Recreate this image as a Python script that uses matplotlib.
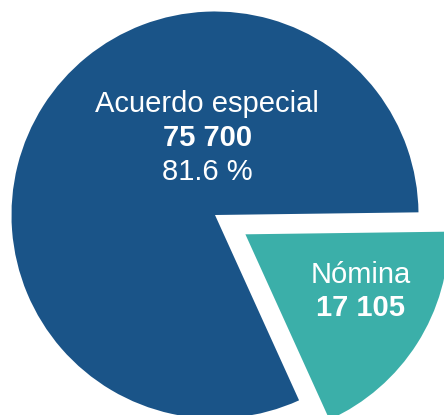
import matplotlib
matplotlib.use('Agg')
import matplotlib.pyplot as plt

plt.rcParams['font.family'] = ['Liberation Sans', 'DejaVu Sans']

# Data
labels = ['Nómina', 'Acuerdo especial']
values = [17105, 75700]
colors = ['#3BAFA9', '#1A5488']
explode = [0.177, 0.0]

W, H, DPI = 444, 415, 100
R_PX = 203.5          # pie radius in pixels
CX, CY = 215, 215     # pie centre in pixels (from top-left)

fig = plt.figure(figsize=(W / DPI, H / DPI), dpi=DPI)
ax = fig.add_axes([0, 0, 1, 1])
ax.pie(values, colors=colors, explode=explode, startangle=-65.6,
       counterclock=True, wedgeprops=dict(linewidth=0))
ax.set_aspect('auto')
ax.set_xlim(-CX / R_PX, (W - CX) / R_PX)
ax.set_ylim(-(H - CY) / R_PX, CY / R_PX)
ax.axis('off')


def fmt(v):
    return f'{v:,}'.replace(',', ' ')


total = sum(values)
pct = values[1] / total * 100

# Acuerdo especial labels
ax.text(-0.039, 0.545, labels[1], ha='center', va='center',
        fontsize=21, color='white')
ax.text(-0.039, 0.378, fmt(values[1]), ha='center', va='center',
        fontsize=21, color='white', fontweight='bold')
ax.text(-0.039, 0.211, f'{pct:.1f} %', ha='center', va='center',
        fontsize=21, color='white')

# Nómina labels
ax.text(0.717, -0.295, labels[0], ha='center', va='center',
        fontsize=21, color='white')
ax.text(0.717, -0.457, fmt(values[0]), ha='center', va='center',
        fontsize=21, color='white', fontweight='bold')

fig.savefig('out.png', dpi=DPI)
